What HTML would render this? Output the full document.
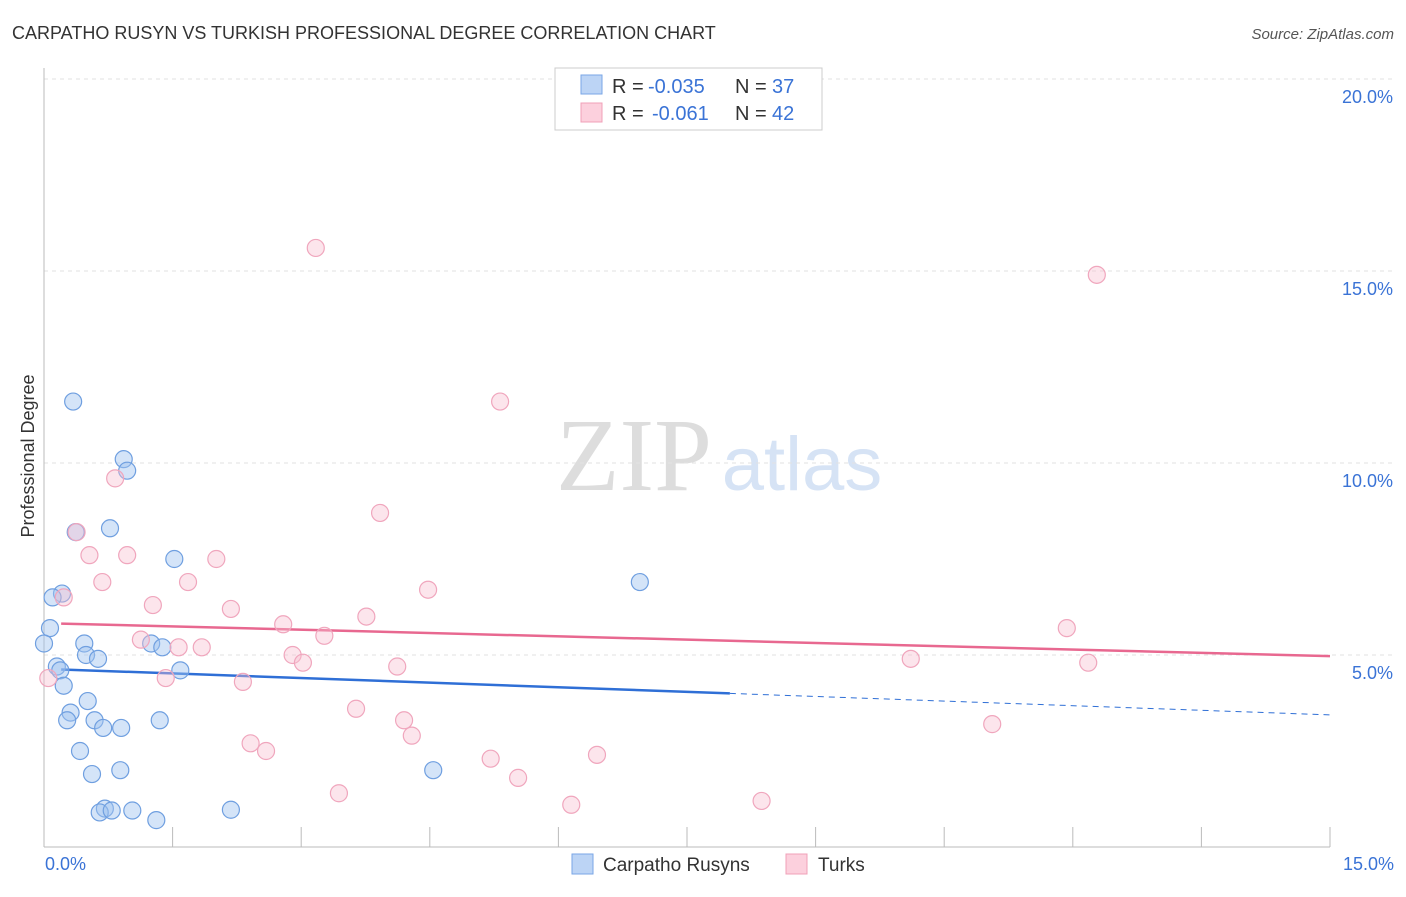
<!DOCTYPE html>
<html><head><meta charset="utf-8"><style>
body{margin:0;background:#fff;font-family:"Liberation Sans",sans-serif;}
</style></head><body>
<svg width="1406" height="892" xmlns="http://www.w3.org/2000/svg" font-family="Liberation Sans, sans-serif">
<text x="12" y="39" font-size="18" fill="#333">CARPATHO RUSYN VS TURKISH PROFESSIONAL DEGREE CORRELATION CHART</text>
<text x="1394" y="39" font-size="15" fill="#555" font-style="italic" text-anchor="end">Source: ZipAtlas.com</text>
<text x="634" y="490" font-size="104" fill="#ddd" font-family="Liberation Serif, serif" text-anchor="middle">ZIP</text>
<text x="802" y="490" font-size="76" fill="#d6e3f5" text-anchor="middle">atlas</text>
<g id="grid"></g>
<line x1="44" y1="68" x2="44" y2="847" stroke="#bbb"/>
<line x1="44" y1="847" x2="1330" y2="847" stroke="#bbb"/>
<text x="34" y="456" font-size="18" fill="#333" transform="rotate(-90 34 456)" text-anchor="middle">Professional Degree</text>
<g id="lines"></g>
<g id="pts"></g>
<g>
<rect x="555" y="68" width="267" height="62" fill="#fff" stroke="#ccc"/>
<rect x="581" y="75" width="21" height="19" fill="#bcd4f5" stroke="#7aa6e6"/>
<rect x="581" y="103" width="21" height="19" fill="#fcd0dd" stroke="#f0a0b8"/>
<text x="612" y="93" font-size="20" fill="#333">R =</text>
<text x="648" y="93" font-size="20" fill="#3a73d6">-0.035</text>
<text x="735" y="93" font-size="20" fill="#333">N =</text>
<text x="772" y="93" font-size="20" fill="#3a73d6">37</text>
<text x="612" y="120" font-size="20" fill="#333">R =</text>
<text x="652" y="120" font-size="20" fill="#3a73d6">-0.061</text>
<text x="735" y="120" font-size="20" fill="#333">N =</text>
<text x="772" y="120" font-size="20" fill="#3a73d6">42</text>
</g>
<g>
<rect x="572" y="854" width="21" height="20" fill="#bcd4f5" stroke="#7aa6e6"/>
<text x="603" y="871" font-size="19" fill="#333">Carpatho Rusyns</text>
<rect x="786" y="854" width="21" height="20" fill="#fcd0dd" stroke="#f0a0b8"/>
<text x="818" y="871" font-size="19" fill="#333">Turks</text>
</g>
<text x="45" y="870" font-size="18" fill="#3a73d6">0.0%</text>
<text x="1394" y="870" font-size="18" fill="#3a73d6" text-anchor="end">15.0%</text>
</svg>
<script>
const yTicks=[5,10,15,20];
const xTicks=[0,1.5,3,4.5,6,7.5,9,10.5,12,13.5,15];
const blueX=[0.34,0.93,0.97,0.37,0.77,1.52,0.21,0.1,0.07,0,0.47,0.49,0.63,1.25,1.38,1.59,0.15,0.19,0.23,0.51,0.31,0.27,0.59,0.69,0.9,1.35,0.42,0.56,0.89,0.71,0.65,0.79,1.03,1.31,2.18,4.54,6.95];
const blueY=[11.6,10.1,9.8,8.2,8.3,7.5,6.6,6.5,5.7,5.3,5.3,5.0,4.9,5.3,5.2,4.6,4.7,4.6,4.2,3.8,3.5,3.3,3.3,3.1,3.1,3.3,2.5,1.9,2.0,1.0,0.9,0.95,0.95,0.7,0.97,2.0,6.9];
const pinkX=[3.17,12.28,5.32,0.83,0.38,3.92,0.53,0.97,2.01,0.68,1.68,4.48,0.23,1.27,2.18,3.76,2.79,3.27,1.13,1.57,1.84,2.9,3.02,4.12,11.93,10.11,12.18,1.42,2.32,0.05,3.64,4.2,4.29,11.06,2.41,2.59,5.21,6.45,5.53,3.44,6.15,8.37];
const pinkY=[15.6,14.9,11.6,9.6,8.2,8.7,7.6,7.6,7.5,6.9,6.9,6.7,6.5,6.3,6.2,6.0,5.8,5.5,5.4,5.2,5.2,5.0,4.8,4.7,5.7,4.9,4.8,4.4,4.3,4.4,3.6,3.3,2.9,3.2,2.7,2.5,2.3,2.4,1.8,1.4,1.1,1.2];
const blueFit=[4.64,3.44];
const pinkFit=[5.83,4.97];
const sx=v=>44+v/15*1286, sy=v=>847-v*38.4;
const NS='http://www.w3.org/2000/svg';
function mk(t,a,p){const e=document.createElementNS(NS,t);for(const k in a)e.setAttribute(k,a[k]);p.appendChild(e);return e;}
const grid=document.getElementById('grid');
yTicks.forEach(v=>{
 const l=mk('line',{x1:44,x2:1394,y1:sy(v),y2:sy(v),stroke:'#e2e2e2','stroke-dasharray':'4,4'},grid);
 
 
 const t=mk('text',{x:1393,y:sy(v)+24,'font-size':18,fill:'#3a73d6','text-anchor':'end'},grid);
 t.textContent=v.toFixed(1)+'%';
 
 
});
xTicks.forEach(v=>{
 const l=mk('line',{x1:sx(v),x2:sx(v),y1:827,y2:847,stroke:'#bbb'},grid);
 
 
});
const pts=document.getElementById('pts');
blueX.forEach((x,i)=>{
 const c=mk('circle',{cx:sx(x),cy:sy(blueY[i]),r:8.5,fill:'rgba(160,195,240,0.45)',stroke:'#6f9fe0','stroke-width':1.2},pts);
 
 
});
pinkX.forEach((x,i)=>{
 const c=mk('circle',{cx:sx(x),cy:sy(pinkY[i]),r:8.5,fill:'rgba(248,190,208,0.4)',stroke:'#f0a6bd','stroke-width':1.2},pts);
 
 
});
const lines=document.getElementById('lines');
const bAt=x=>blueFit[0]+(blueFit[1]-blueFit[0])*x/15;
const pAt=x=>pinkFit[0]+(pinkFit[1]-pinkFit[0])*x/15;
let l=mk('line',{x1:sx(0.2),y1:sy(bAt(0.2)),x2:sx(8),y2:sy(bAt(8)),stroke:'#2f6fd6','stroke-width':2.5},lines);


l=mk('line',{x1:sx(8),y1:sy(bAt(8)),x2:sx(15),y2:sy(bAt(15)),stroke:'#2f6fd6','stroke-width':1,'stroke-dasharray':'6,5'},lines);


l=mk('line',{x1:sx(0.2),y1:sy(pAt(0.2)),x2:sx(15),y2:sy(pAt(15)),stroke:'#e86890','stroke-width':2.5},lines);


</script>
</body></html>
